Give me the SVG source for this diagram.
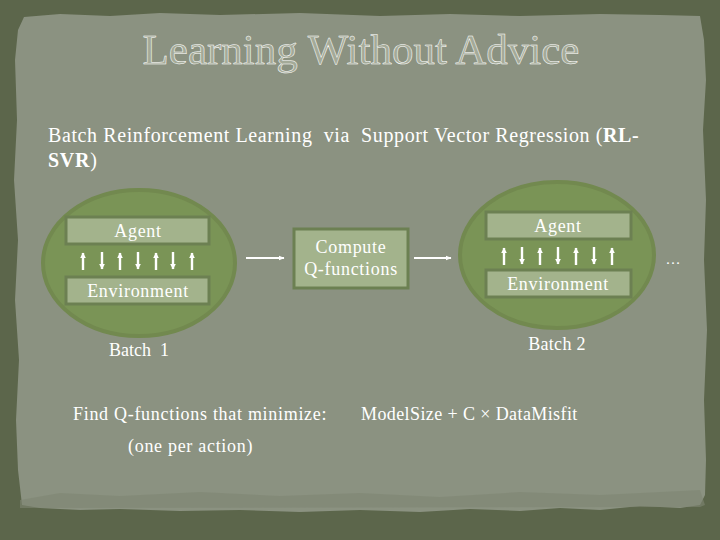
<svg xmlns="http://www.w3.org/2000/svg" width="720" height="540" viewBox="0 0 720 540">
<defs>
<style>
.t{font-family:"Liberation Serif","DejaVu Serif",serif;fill:#ffffff;font-size:18px;letter-spacing:0.7px;white-space:pre}
.box{fill:#a3b38c;stroke:#6c8052;stroke-width:3}
.blob{fill:#7a9456;stroke:#72894f;stroke-width:4}
.conn{stroke:#ffffff;stroke-width:2;fill:none}
.ud{stroke:#ffffff;stroke-width:2.4}
</style>
<marker id="ah" viewBox="0 0 10 10" refX="9" refY="5" markerWidth="6" markerHeight="6" orient="auto" markerUnits="userSpaceOnUse">
<path d="M0,0 L10,5 L0,10 z" fill="#ffffff"/>
</marker>
<marker id="ah2" viewBox="0 0 10 10" refX="9" refY="5" markerWidth="6" markerHeight="6" orient="auto" markerUnits="userSpaceOnUse">
<path d="M0,1 L10,5 L0,9 z" fill="#ffffff"/>
</marker>
</defs>
<rect x="0" y="0" width="720" height="540" fill="#5c664b"/>
<path d="M24,17 L60,14 L110,16 L160,13 L220,15 L300,13 L380,16 L450,14 L520,16 L600,14 L660,15 L700,16 L704,40 L706,80 L703,130 L706,200 L704,260 L707,330 L704,400 L706,460 L705,495 L700,505 L680,508 L640,506 L600,510 L560,508 L520,511 L470,509 L420,512 L360,510 L300,512 L240,510 L180,511 L120,509 L80,510 L40,508 L22,505 L18,470 L16,420 L19,360 L15,300 L18,240 L14,180 L17,120 L15,60 L18,30 Z" fill="#8b9281"/>
<path d="M20,500 L60,493 L120,496 L200,492 L280,496 L360,493 L440,497 L520,492 L600,495 L660,492 L700,490 L705,505 L700,507 L20,508 Z" fill="#7e8673" opacity="0.6"/>
<text x="361" y="64" font-family="Liberation Serif, serif" font-size="43" text-anchor="middle" fill="#a4aa98" stroke="#ffffff" stroke-width="0.5">Learning Without Advice</text>
<text class="t" x="48" y="142" style="font-size:20px;letter-spacing:0.6px">Batch Reinforcement Learning  via  Support Vector Regression (<tspan font-weight="bold">RL-</tspan></text>
<text class="t" x="48" y="167" style="font-size:20px" font-weight="bold">SVR<tspan font-weight="normal">)</tspan></text>
<g id="batch1">
<ellipse class="blob" cx="139" cy="263" rx="96" ry="73"/>
<g id="agent1"><rect class="box" x="66" y="217" width="143" height="27"/><text class="t" x="138" y="237" text-anchor="middle">Agent</text></g>
<g id="env1"><rect class="box" x="66" y="277" width="143" height="27"/><text class="t" x="138" y="297" text-anchor="middle">Environment</text></g>
<g id="updown1">
<line class="ud" x1="83" y1="270" x2="83" y2="253" marker-end="url(#ah)"/>
<line class="ud" x1="102" y1="252" x2="102" y2="269" marker-end="url(#ah)"/>
<line class="ud" x1="120" y1="270" x2="120" y2="253" marker-end="url(#ah)"/>
<line class="ud" x1="138" y1="252" x2="138" y2="269" marker-end="url(#ah)"/>
<line class="ud" x1="156" y1="270" x2="156" y2="253" marker-end="url(#ah)"/>
<line class="ud" x1="173" y1="252" x2="173" y2="269" marker-end="url(#ah)"/>
<line class="ud" x1="192" y1="270" x2="192" y2="253" marker-end="url(#ah)"/>
</g>
<text class="t" x="139" y="356" text-anchor="middle" style="letter-spacing:0">Batch  1</text>
</g>
<g id="compute"><rect class="box" x="294" y="229" width="114" height="59"/><text class="t" x="351" y="253" text-anchor="middle">Compute</text><text class="t" x="351" y="275" text-anchor="middle">Q-functions</text></g>
<g id="batch2">
<ellipse class="blob" cx="557" cy="255" rx="97" ry="73"/>
<g id="agent2"><rect class="box" x="486" y="212" width="145" height="27"/><text class="t" x="558" y="232" text-anchor="middle">Agent</text></g>
<g id="env2"><rect class="box" x="486" y="270" width="145" height="27"/><text class="t" x="558" y="290" text-anchor="middle">Environment</text></g>
<g id="updown2">
<line class="ud" x1="504" y1="265" x2="504" y2="248" marker-end="url(#ah)"/>
<line class="ud" x1="522" y1="247" x2="522" y2="264" marker-end="url(#ah)"/>
<line class="ud" x1="540" y1="265" x2="540" y2="248" marker-end="url(#ah)"/>
<line class="ud" x1="558" y1="247" x2="558" y2="264" marker-end="url(#ah)"/>
<line class="ud" x1="576" y1="265" x2="576" y2="248" marker-end="url(#ah)"/>
<line class="ud" x1="594" y1="247" x2="594" y2="264" marker-end="url(#ah)"/>
<line class="ud" x1="612" y1="265" x2="612" y2="248" marker-end="url(#ah)"/>
</g>
<text class="t" x="557" y="350" text-anchor="middle" style="letter-spacing:0.3px">Batch 2</text>
</g>
<g id="connectors">
<line class="conn" x1="246" y1="258" x2="284" y2="258" marker-end="url(#ah2)"/>
<line class="conn" x1="414" y1="258" x2="451" y2="258" marker-end="url(#ah2)"/>
</g>
<text class="t" x="673" y="264" text-anchor="middle" style="font-size:15px;letter-spacing:0">…</text>
<text class="t" x="73" y="420">Find Q-functions that minimize:</text>
<text class="t" x="361" y="420" style="letter-spacing:0.4px">ModelSize + C × DataMisfit</text>
<text class="t" x="128" y="452">(one per action)</text>
</svg>
